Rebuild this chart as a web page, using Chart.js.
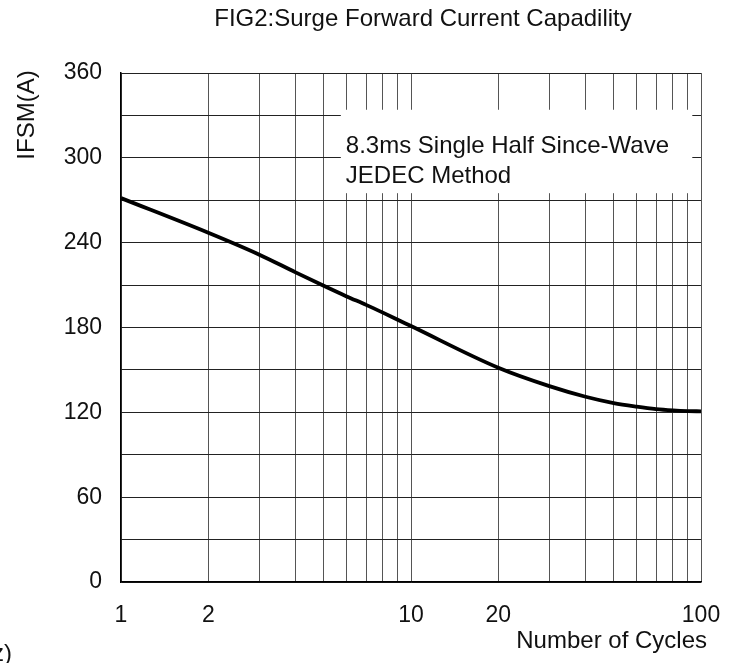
<!DOCTYPE html>
<html>
<head>
<meta charset="utf-8">
<script src="https://cdn.jsdelivr.net/npm/chart.js@4.4.0/dist/chart.umd.min.js"></script>
<style>
  html, body { margin: 0; padding: 0; background: #fff; }
  #wrap { width: 737px; height: 663px; }
</style>
</head>
<body>
<div id="wrap"><canvas id="myChart" width="737" height="663"></canvas></div>
<script>
// number of cycles at 60Hz
const cycles = [1, 2, 3, 4, 5, 6, 7, 8, 9, 10, 20, 30, 40, 50, 60, 70, 80, 90, 100]
// peak forward surge current, A
const ifsm = [271.5, 247, 231.5, 219, 209.5, 202, 196, 190.5, 185.5, 181, 151.5, 138.5, 131, 126.5, 124, 122.3, 121.4, 120.9, 120.7]

const xTicks = [1, 2, 3, 4, 5, 6, 7, 8, 9, 10, 20, 30, 40, 50, 60, 70, 80, 90, 100]
const xLabels = [1, 2, 10, 20, 100]
const yLabels = [0, 60, 120, 180, 240, 300, 360]

const titleText = 'FIG2:Surge Forward Current Capadility'
const yTitle = 'IFSM(A)'
const xTitle = 'Number of Cycles'
const noteLines = ['8.3ms Single Half Since-Wave', 'JEDEC Method']

const FONT = '"Liberation Sans", Arial, sans-serif'

const textPlugin = {
    id: 'texts',
    beforeDatasetsDraw(chart) {
        // white note box over the grid
        const ctx = chart.ctx
        const a = chart.chartArea
        const y = chart.scales.y
        const w = a.right - a.left
        const left = a.left + w * 0.379
        const right = a.left + w * 0.985
        const top = y.getPixelForValue(334)
        const bottom = y.getPixelForValue(275)
        ctx.save()
        ctx.fillStyle = '#fff'
        ctx.fillRect(left, top, right - left, bottom - top)
        ctx.fillStyle = '#111'
        ctx.font = '24px ' + FONT
        ctx.textAlign = 'left'
        ctx.textBaseline = 'alphabetic'
        ctx.fillText(noteLines[0], left + 5, top + 43)
        ctx.fillText(noteLines[1], left + 5, top + 73)
        ctx.restore()
    },
    afterDraw(chart) {
        const ctx = chart.ctx
        ctx.save()
        ctx.fillStyle = '#111'
        ctx.font = '24px ' + FONT
        ctx.textBaseline = 'middle'
        ctx.textAlign = 'center'
        ctx.fillText(titleText, 423, 19)

        ctx.textAlign = 'right'
        ctx.fillText(xTitle, 707, 641)
        ctx.fillText('(Hz)', 12, 654)

        ctx.translate(27, 115)
        ctx.rotate(-Math.PI / 2)
        ctx.textAlign = 'center'
        ctx.fillText(yTitle, 0, 0)
        ctx.restore()
    }
}

function createChart() {
    const chartie = document.getElementById('myChart')

    new Chart(chartie, {
        type: 'line',
        data: {
            labels: cycles,
            datasets: [{
                label: 'IFSM',
                data: cycles.map((c, i) => ({ x: c, y: ifsm[i] })),
                borderColor: '#000',
                borderWidth: 3.8,
                pointRadius: 0,
                cubicInterpolationMode: 'monotone',
                fill: false
            }]
        },
        options: {
            responsive: false,
            animation: false,
            layout: { padding: { top: 73, right: 36, left: 0, bottom: 0 } },
            plugins: {
                legend: { display: false },
                title: { display: false },
                tooltip: { enabled: false }
            },
            scales: {
                x: {
                    type: 'logarithmic',
                    min: 1,
                    max: 100,
                    afterBuildTicks: (scale) => {
                        scale.ticks = xTicks.map(v => ({ value: v }))
                    },
                    afterFit: (scale) => {
                        scale.height = 81
                        scale.paddingLeft = 0
                        scale.paddingRight = 0
                    },
                    grid: { color: '#555', lineWidth: 1, drawTicks: false },
                    border: { color: '#000', width: 1.5 },
                    ticks: {
                        autoSkip: false,
                        maxRotation: 0,
                        padding: 20,
                        color: '#111',
                        font: { size: 23, family: FONT },
                        callback: (v) => xLabels.includes(v) ? String(v) : ''
                    }
                },
                y: {
                    min: 0,
                    max: 360,
                    afterFit: (scale) => {
                        scale.width = 121
                        scale.paddingTop = 0
                        scale.paddingBottom = 0
                    },
                    grid: { color: '#222', lineWidth: 1, drawTicks: false },
                    border: { color: '#000', width: 1.5 },
                    ticks: {
                        stepSize: 30,
                        autoSkip: false,
                        padding: 19,
                        color: '#111',
                        font: { size: 23, family: FONT },
                        callback: (v) => yLabels.includes(v) ? String(v) : ''
                    }
                }
            }
        },
        plugins: [textPlugin]
    })
}

createChart()
</script>
</body>
</html>
